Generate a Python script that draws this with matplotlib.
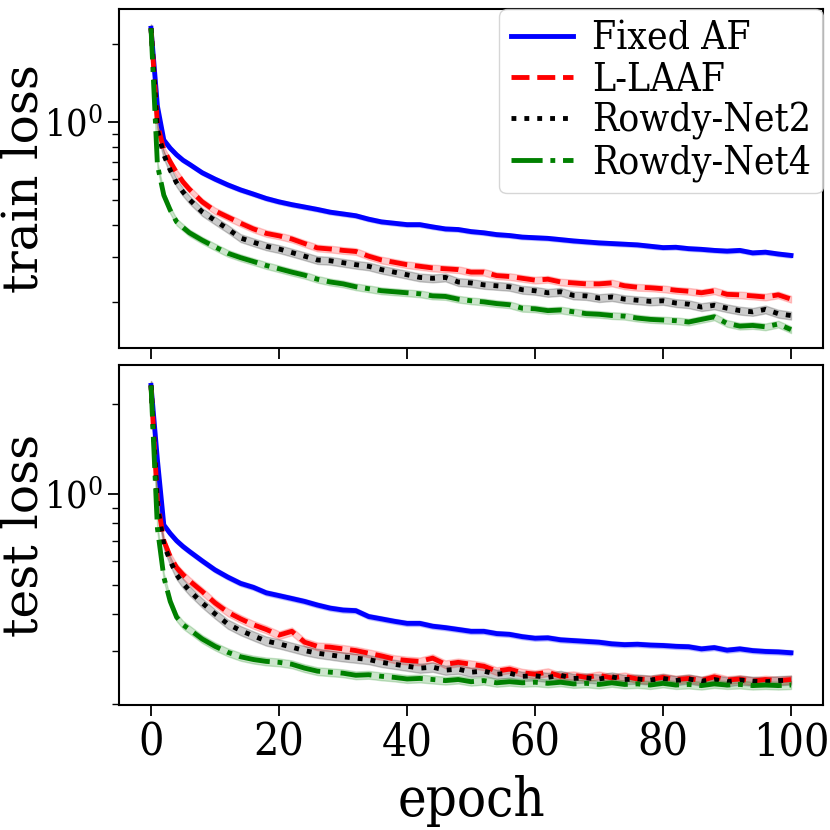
import matplotlib
matplotlib.use("Agg")
import matplotlib.pyplot as plt
from matplotlib.ticker import NullFormatter
import numpy as np

plt.rcParams["font.family"] = ["DejaVu Serif"]
plt.rcParams["font.stretch"] = "condensed"
plt.rcParams["mathtext.fontset"] = "dejavuserif"

# epochs at which losses were read
epochs = [0, 1, 2, 3, 4, 5, 6] + list(range(8, 101, 2))

labels = ["Fixed AF", "L-LAAF", "Rowdy-Net2", "Rowdy-Net4"]

# train loss
train_fixed = [2.30, 1.15, 0.85, 0.79, 0.745, 0.71, 0.685, 0.635, 0.60, 0.57, 0.545, 0.525, 0.505, 0.49,
               0.478, 0.468, 0.458, 0.447, 0.44, 0.433, 0.42, 0.41, 0.405, 0.40, 0.40, 0.392, 0.385, 0.383,
               0.376, 0.372, 0.366, 0.363, 0.358, 0.356, 0.354, 0.35, 0.346, 0.343, 0.34, 0.338, 0.336,
               0.334, 0.330, 0.326, 0.327, 0.323, 0.321, 0.318, 0.316, 0.318, 0.311, 0.313, 0.308, 0.304]
train_llaaf = [2.30, 0.98, 0.78, 0.70, 0.635, 0.585, 0.548, 0.49, 0.452, 0.428, 0.405, 0.385, 0.37, 0.362,
               0.352, 0.338, 0.325, 0.322, 0.318, 0.315, 0.302, 0.292, 0.286, 0.28, 0.276, 0.272, 0.27, 0.268,
               0.262, 0.262, 0.254, 0.252, 0.248, 0.244, 0.246, 0.24, 0.238, 0.236, 0.236, 0.238, 0.232,
               0.229, 0.228, 0.226, 0.223, 0.221, 0.218, 0.222, 0.215, 0.214, 0.212, 0.210, 0.214, 0.206]
train_rowdy2 = [2.30, 0.93, 0.745, 0.65, 0.58, 0.535, 0.50, 0.448, 0.415, 0.385, 0.355, 0.342, 0.33, 0.322,
                0.312, 0.302, 0.292, 0.29, 0.285, 0.28, 0.276, 0.268, 0.262, 0.256, 0.25, 0.248, 0.25, 0.24,
                0.238, 0.234, 0.232, 0.23, 0.224, 0.222, 0.218, 0.22, 0.213, 0.212, 0.208, 0.21, 0.206,
                0.204, 0.202, 0.203, 0.199, 0.197, 0.192, 0.195, 0.19, 0.186, 0.184, 0.188, 0.181, 0.178]
train_rowdy4 = [2.30, 0.68, 0.52, 0.455, 0.41, 0.39, 0.372, 0.348, 0.328, 0.31, 0.298, 0.288, 0.278, 0.27,
                0.262, 0.255, 0.246, 0.24, 0.236, 0.23, 0.226, 0.222, 0.22, 0.218, 0.216, 0.212, 0.211, 0.206,
                0.203, 0.201, 0.198, 0.196, 0.19, 0.189, 0.186, 0.187, 0.184, 0.181, 0.18, 0.178, 0.177,
                0.174, 0.172, 0.171, 0.170, 0.168, 0.172, 0.176, 0.166, 0.162, 0.163, 0.161, 0.165, 0.157]

# test loss
test_fixed = [2.30, 1.30, 0.79, 0.74, 0.70, 0.67, 0.645, 0.60, 0.56, 0.53, 0.505, 0.49, 0.47, 0.46,
              0.45, 0.44, 0.428, 0.418, 0.412, 0.41, 0.392, 0.385, 0.378, 0.372, 0.372, 0.364, 0.36, 0.355,
              0.35, 0.35, 0.344, 0.342, 0.336, 0.332, 0.333, 0.328, 0.326, 0.324, 0.322, 0.318, 0.316,
              0.317, 0.315, 0.314, 0.312, 0.311, 0.306, 0.309, 0.303, 0.306, 0.302, 0.300, 0.299, 0.297]
test_llaaf = [2.30, 0.95, 0.70, 0.62, 0.57, 0.54, 0.515, 0.475, 0.435, 0.405, 0.385, 0.368, 0.355, 0.34,
              0.35, 0.322, 0.312, 0.31, 0.306, 0.302, 0.296, 0.29, 0.283, 0.28, 0.278, 0.285, 0.272, 0.276,
              0.272, 0.268, 0.258, 0.262, 0.255, 0.252, 0.256, 0.248, 0.25, 0.246, 0.25, 0.245, 0.248,
              0.243, 0.242, 0.246, 0.242, 0.244, 0.24, 0.247, 0.241, 0.243, 0.239, 0.242, 0.24, 0.242]
test_rowdy2 = [2.30, 0.92, 0.68, 0.60, 0.54, 0.505, 0.478, 0.435, 0.40, 0.37, 0.352, 0.338, 0.325, 0.318,
               0.31, 0.302, 0.296, 0.292, 0.288, 0.285, 0.282, 0.276, 0.272, 0.268, 0.264, 0.266, 0.26, 0.262,
               0.256, 0.258, 0.252, 0.254, 0.248, 0.249, 0.246, 0.25, 0.244, 0.245, 0.243, 0.247, 0.242,
               0.243, 0.241, 0.244, 0.24, 0.243, 0.239, 0.242, 0.238, 0.241, 0.239, 0.238, 0.24, 0.241]
test_rowdy4 = [2.30, 0.77, 0.53, 0.44, 0.39, 0.368, 0.355, 0.33, 0.312, 0.298, 0.288, 0.282, 0.278, 0.276,
               0.272, 0.264, 0.258, 0.256, 0.254, 0.25, 0.251, 0.248, 0.246, 0.243, 0.244, 0.242, 0.24, 0.242,
               0.238, 0.24, 0.236, 0.238, 0.236, 0.237, 0.235, 0.237, 0.234, 0.235, 0.233, 0.236, 0.233,
               0.234, 0.232, 0.235, 0.232, 0.233, 0.231, 0.234, 0.232, 0.233, 0.231, 0.232, 0.231, 0.232]

# relative spread (std / mean) over runs
train_spread = [0.02, 0.03, 0.035, 0.03]
test_spread = [0.02, 0.03, 0.035, 0.03]

colors = ["blue", "red", "black", "green"]
styles = ["-", "--", ":", "-."]

fig, axes = plt.subplots(2, 1, figsize=(8.3, 8.3), dpi=100, sharex=True)
fig.subplots_adjust(left=0.1434, right=0.9916, top=0.9892, bottom=0.1506, hspace=0.05)

panels = [(axes[0], [train_fixed, train_llaaf, train_rowdy2, train_rowdy4], train_spread, "train loss"),
          (axes[1], [test_fixed, test_llaaf, test_rowdy2, test_rowdy4], test_spread, "test loss")]

for ax, series, spread, ylab in panels:
    for vals, s, c, ls, lab in zip(series, spread, colors, styles, labels):
        v = np.array(vals)
        ax.fill_between(epochs, v * (1 - s), v * (1 + s), color=c, alpha=0.2, lw=1.0)
        ax.plot(epochs, v, color=c, ls=ls, lw=3.5, label=lab)
    ax.set_yscale("log")
    ax.yaxis.set_minor_formatter(NullFormatter())
    ax.set_ylabel(ylab, fontsize=35, fontstretch="normal")
    ax.yaxis.set_label_coords(-0.102, 0.5)
    ax.tick_params(axis="y", which="major", labelsize=27, length=8, width=1.3)
    ax.tick_params(axis="y", which="minor", length=5, width=1.0)
    ax.tick_params(axis="x", labelsize=32, length=8, width=1.3)
    for sp in ax.spines.values():
        sp.set_linewidth(1.5)

axes[1].set_xlabel("epoch", fontsize=39, labelpad=8)
axes[1].set_xticks([0, 20, 40, 60, 80, 100])

axes[0].legend(loc="upper right", fontsize=28, borderaxespad=0.0, labelspacing=0.1,
               handlelength=1.6, handletextpad=0.5, borderpad=0.3)

fig.savefig("out.png", dpi=100)
